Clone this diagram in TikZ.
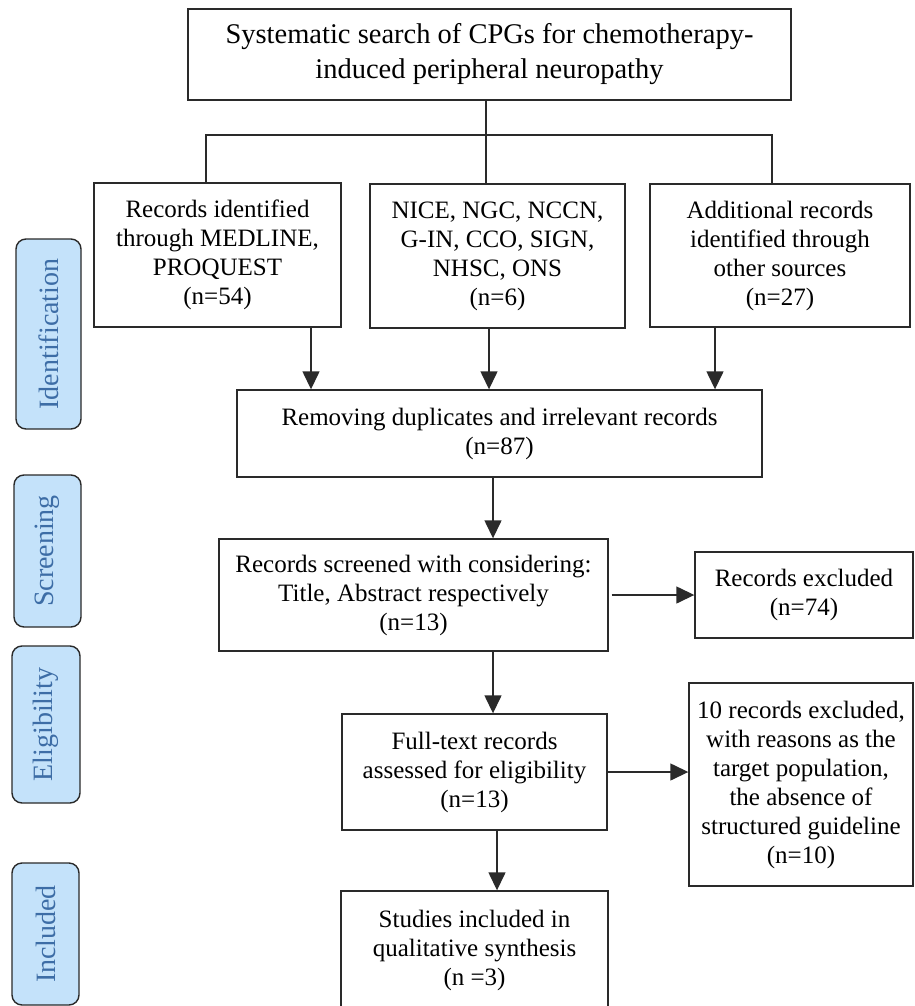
\documentclass[tikz,border=0pt]{standalone}
\usepackage{fontspec}
\setmainfont{Liberation Serif}
\usetikzlibrary{arrows.meta,calc}
\definecolor{lblfill}{HTML}{C4E2FA}
\definecolor{lbltext}{HTML}{3D6DA6}
\definecolor{edge}{HTML}{2A2A2A}
\begin{document}
\begin{tikzpicture}[x=1pt,y=-1pt,
  box/.style={draw=edge,line width=1.4pt,fill=white,align=center,inner sep=2pt,font=\fontsize{25}{29}\selectfont},
  lbl/.style={draw=edge,line width=1.4pt,fill=lblfill,rounded corners=10pt,rotate=90,text=lbltext,font=\fontsize{28}{32}\selectfont,inner sep=0pt},
  arr/.style={draw=edge,line width=1.4pt,-{Triangle[length=18pt,width=17pt]}},
  ln/.style={draw=edge,line width=1.4pt}]
\clip (0,0) rectangle (914,1006);
\fill[white] (0,0) rectangle (914,1006);
% boxes
\node[box,minimum width=603,minimum height=91,font=\fontsize{28.5}{35}\selectfont] (top) at (489.5,54.5) {Systematic search of CPGs for chemotherapy-\\induced peripheral neuropathy};
\node[box,minimum width=247,minimum height=144] (b1) at (217.5,255) {Records identified\\through MEDLINE,\\PROQUEST\\(n=54)};
\node[box,minimum width=255,minimum height=144] (b2) at (497.5,256) {NICE, NGC, NCCN,\\G-IN, CCO, SIGN,\\NHSC, ONS\\(n=6)\vphantom{g}};
\node[box,minimum width=260,minimum height=143] (b3) at (780,255.5) {Additional records\\identified through\\other sources\\(n=27)};
\node[box,minimum width=525,minimum height=87] (rem) at (499.5,433.5) {Removing duplicates and irrelevant records\\(n=87)};
\node[box,minimum width=389,minimum height=112] (scr) at (413.5,595) {Records screened with considering:\\Title, Abstract respectively\\(n=13)};
\node[box,minimum width=218,minimum height=86] (exc) at (804,595) {Records excluded\\(n=74)};
\node[box,minimum width=265,minimum height=116] (full) at (474.5,772) {Full-text records\\assessed for eligibility\\(n=13)};
\node[box,minimum width=224,minimum height=203] (ten) at (801,784.5) {10 records excluded,\\with reasons as the\\target population,\\the absence of\\structured guideline\\(n=10)};
\node[box,minimum width=267,minimum height=119] (stu) at (474.5,950.5) {Studies included in\\qualitative synthesis\\(n =3)};
% side labels
\node[lbl,minimum width=190,minimum height=65] (lid) at (48.5,334) {Identification};
\node[lbl,minimum width=152,minimum height=67] (lsc) at (47.5,551) {Screening};
\node[lbl,minimum width=157,minimum height=68] (lel) at (46,724.5) {Eligibility};
\node[lbl,minimum width=142,minimum height=67] (lin) at (45.5,934) {Included};
% tree
\coordinate (jc) at (486,135);
\coordinate (jl) at (206,135);
\coordinate (jr) at (772,135);
\draw[ln] (jc |- top.south) -- (jc |- b2.north);
\draw[ln] (jl |- b1.north) -- (jl) -- (jr) -- (jr |- b3.north);
% arrows
\coordinate (a1) at (311,0);
\coordinate (a2) at (489,0);
\coordinate (a3) at (715,0);
\coordinate (a4) at (493,0);
\coordinate (a5) at (497,0);
\draw[arr] (a1 |- b1.south) -- (a1 |- rem.north);
\draw[arr] (a2 |- b2.south) -- (a2 |- rem.north);
\draw[arr] (a3 |- b3.south) -- (a3 |- rem.north);
\draw[arr] (a4 |- rem.south) -- (a4 |- scr.north);
\draw[arr] (a4 |- scr.south) -- (a4 |- full.north);
\draw[arr] (a5 |- full.south) -- (a5 |- stu.north);
\draw[arr] ([xshift=3pt]scr.east) -- (exc.west);
\draw[arr] (full.east) -- (full.east -| ten.west);
\end{tikzpicture}
\end{document}
